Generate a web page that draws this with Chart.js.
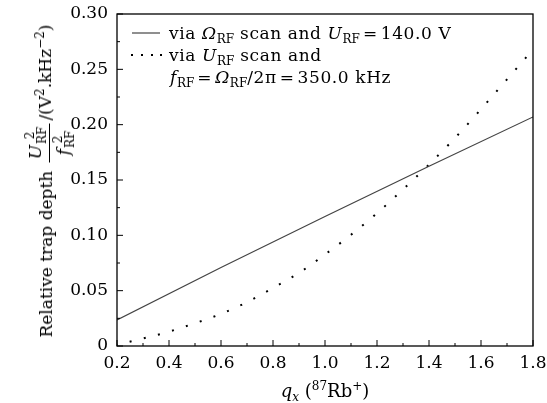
<!DOCTYPE html>
<html>
<head>
<meta charset="utf-8">
<script src="https://cdn.jsdelivr.net/npm/chart.js@4.4.0/dist/chart.umd.min.js"></script>
<style>
body { margin: 0; background: #fff; }
#wrap { position: relative; width: 547px; height: 403px; font-family: "DejaVu Serif", serif; color: #000; }
#chart { position: absolute; left: 0; top: 0; }
.t { position: absolute; white-space: nowrap; font-size: 17px; line-height: 20px; }
.leg { letter-spacing: 0.6px; }
i { font-style: italic; }
.s { font-size: 12px; position: relative; top: 4px; letter-spacing: 0; }
.p { font-size: 12px; position: relative; top: -7px; }
.eq { padding: 0 3px; }
#ytitle { left: 46px; top: 181px; transform: translate(-50%, -50%) rotate(-90deg); display: flex; align-items: center; }
.frac { display: inline-block; text-align: center; margin: 0 3px; position: relative; top: 4px; }
.frac .num { display: block; border-bottom: 1px solid #000; padding: 0 3px 1px; }
.frac .den { display: block; padding: 2px 3px 0; }
.ss { display: inline-flex; flex-direction: column; font-size: 12px; line-height: 12px; vertical-align: middle; margin-left: 1px; }
</style>
</head>
<body>
<div id="wrap">
  <canvas id="chart" width="547" height="403"></canvas>
  <div class="t leg" id="leg1" style="left:169px; top:23px;">via <i>Ω</i><span class="s">RF</span> scan and <i>U</i><span class="s">RF</span><span class="eq">=</span>140.0 V</div>
  <div class="t leg" id="leg2" style="left:169px; top:45px;">via <i>U</i><span class="s">RF</span> scan and</div>
  <div class="t leg" id="leg3" style="left:170px; top:67px;"><i>f</i><span class="s">RF</span><span class="eq">=</span><i>Ω</i><span class="s">RF</span>/2π<span class="eq">=</span>350.0 kHz</div>
  <div class="t" id="ytitle"><span>Relative trap depth&nbsp;</span><span class="frac"><span class="num"><i>U</i><span class="ss"><span>2</span><span>RF</span></span></span><span class="den"><i>f</i><span class="ss"><span>2</span><span>RF</span></span></span></span><span>/(V<span class="p">2</span>.kHz<span class="p">−2</span>)</span></div>
  <div class="t" id="xtitle" style="left:325px; top:381px; font-size:18px; transform:translateX(-50%);"><i>q</i><span class="s"><i>x</i></span> (<span class="p">87</span>Rb<span class="p">+</span>)</div>
</div>
<script>
// q_x values and relative trap depth
const qSolid = [0.2, 0.6, 1.0, 1.4, 1.8];
const depthOmegaScan = [0.0235, 0.071, 0.117, 0.1625, 0.207];

const qDotted = [0.2, 0.3, 0.4, 0.5, 0.6, 0.7, 0.8, 0.9, 1.0, 1.1, 1.2, 1.3, 1.4, 1.5, 1.6, 1.7, 1.8];
const depthUScan = [0.001, 0.0068, 0.013, 0.0206, 0.029, 0.0396, 0.0525, 0.066, 0.0827, 0.1005, 0.120, 0.1415, 0.164, 0.188, 0.214, 0.241, 0.268];

const xTicks = [0.2, 0.4, 0.6, 0.8, 1.0, 1.2, 1.4, 1.6, 1.8];
const xTickLabels = ['0.2', '0.4', '0.6', '0.8', '1.0', '1.2', '1.4', '1.6', '1.8'];
const xMinorTicks = [0.3, 0.5, 0.7, 0.9, 1.1, 1.3, 1.5, 1.7];
const yTicks = [0, 0.05, 0.10, 0.15, 0.20, 0.25, 0.30];
const yTickLabels = ['0', '0.05', '0.10', '0.15', '0.20', '0.25', '0.30'];
const yMinorTicks = [0.025, 0.075, 0.125, 0.175, 0.225, 0.275];

const tickFont = { family: 'DejaVu Serif', size: 17 };

// frame, inward ticks and legend keys
const frameTicks = {
  id: 'frameTicks',
  afterDraw(chart) {
    const ctx = chart.ctx;
    const a = chart.chartArea;
    const x = chart.scales.x, y = chart.scales.y;
    ctx.save();
    ctx.strokeStyle = '#000';
    ctx.lineWidth = 1.3;
    ctx.strokeRect(a.left, a.top, a.right - a.left, a.bottom - a.top);
    ctx.lineWidth = 1;
    ctx.beginPath();
    xTicks.forEach(v => { const px = x.getPixelForValue(v); ctx.moveTo(px, a.bottom); ctx.lineTo(px, a.bottom - 6); });
    xMinorTicks.forEach(v => { const px = x.getPixelForValue(v); ctx.moveTo(px, a.bottom); ctx.lineTo(px, a.bottom - 3); });
    yTicks.forEach(v => { const py = y.getPixelForValue(v); ctx.moveTo(a.left, py); ctx.lineTo(a.left + 6, py); });
    yMinorTicks.forEach(v => { const py = y.getPixelForValue(v); ctx.moveTo(a.left, py); ctx.lineTo(a.left + 3, py); });
    ctx.stroke();

    // legend keys
    ctx.strokeStyle = '#444';
    ctx.lineWidth = 1.2;
    ctx.beginPath();
    ctx.moveTo(a.left + 15, 33);
    ctx.lineTo(a.left + 43, 33);
    ctx.stroke();
    ctx.fillStyle = '#000';
    [0, 10, 20, 29].forEach(d => ctx.fillRect(a.left + 14 + d, 54, 2, 2));
    ctx.restore();
  }
};

new Chart(document.getElementById('chart'), {
  type: 'line',
  data: {
    datasets: [
      {
        label: 'via Omega_RF scan and U_RF = 140.0 V',
        data: qSolid.map((q, i) => ({ x: q, y: depthOmegaScan[i] })),
        borderColor: '#444',
        borderWidth: 1.2,
        pointRadius: 0,
        fill: false
      },
      {
        label: 'via U_RF scan and f_RF = Omega_RF/2pi = 350.0 kHz',
        data: qDotted.map((q, i) => ({ x: q, y: depthUScan[i] })),
        borderColor: '#000',
        borderWidth: 2,
        borderDash: [2, 12.6],
        borderDashOffset: 1.6,
        cubicInterpolationMode: 'monotone',
        pointRadius: 0,
        fill: false
      }
    ]
  },
  options: {
    responsive: false,
    animation: false,
    layout: { padding: { left: 0, top: 14, right: 14, bottom: 0 } },
    plugins: { legend: { display: false }, tooltip: { enabled: false } },
    scales: {
      x: {
        type: 'linear',
        min: 0.2,
        max: 1.8,
        afterBuildTicks: s => { s.ticks = xTicks.map(v => ({ value: v })); },
        afterFit: s => { s.height = 57; s.paddingLeft = 0; s.paddingRight = 0; },
        grid: { display: false, drawTicks: false },
        border: { display: false },
        ticks: {
          color: '#000',
          font: tickFont,
          padding: 7,
          maxRotation: 0,
          callback: (v, i) => xTickLabels[i]
        }
      },
      y: {
        min: 0,
        max: 0.3,
        afterBuildTicks: s => { s.ticks = yTicks.map(v => ({ value: v })); },
        afterFit: s => { s.width = 117; s.paddingTop = 0; s.paddingBottom = 0; },
        grid: { display: false, drawTicks: false },
        border: { display: false },
        ticks: {
          color: '#000',
          font: tickFont,
          padding: 9,
          callback: (v, i) => yTickLabels[i]
        }
      }
    }
  },
  plugins: [frameTicks]
});
</script>
</body>
</html>
